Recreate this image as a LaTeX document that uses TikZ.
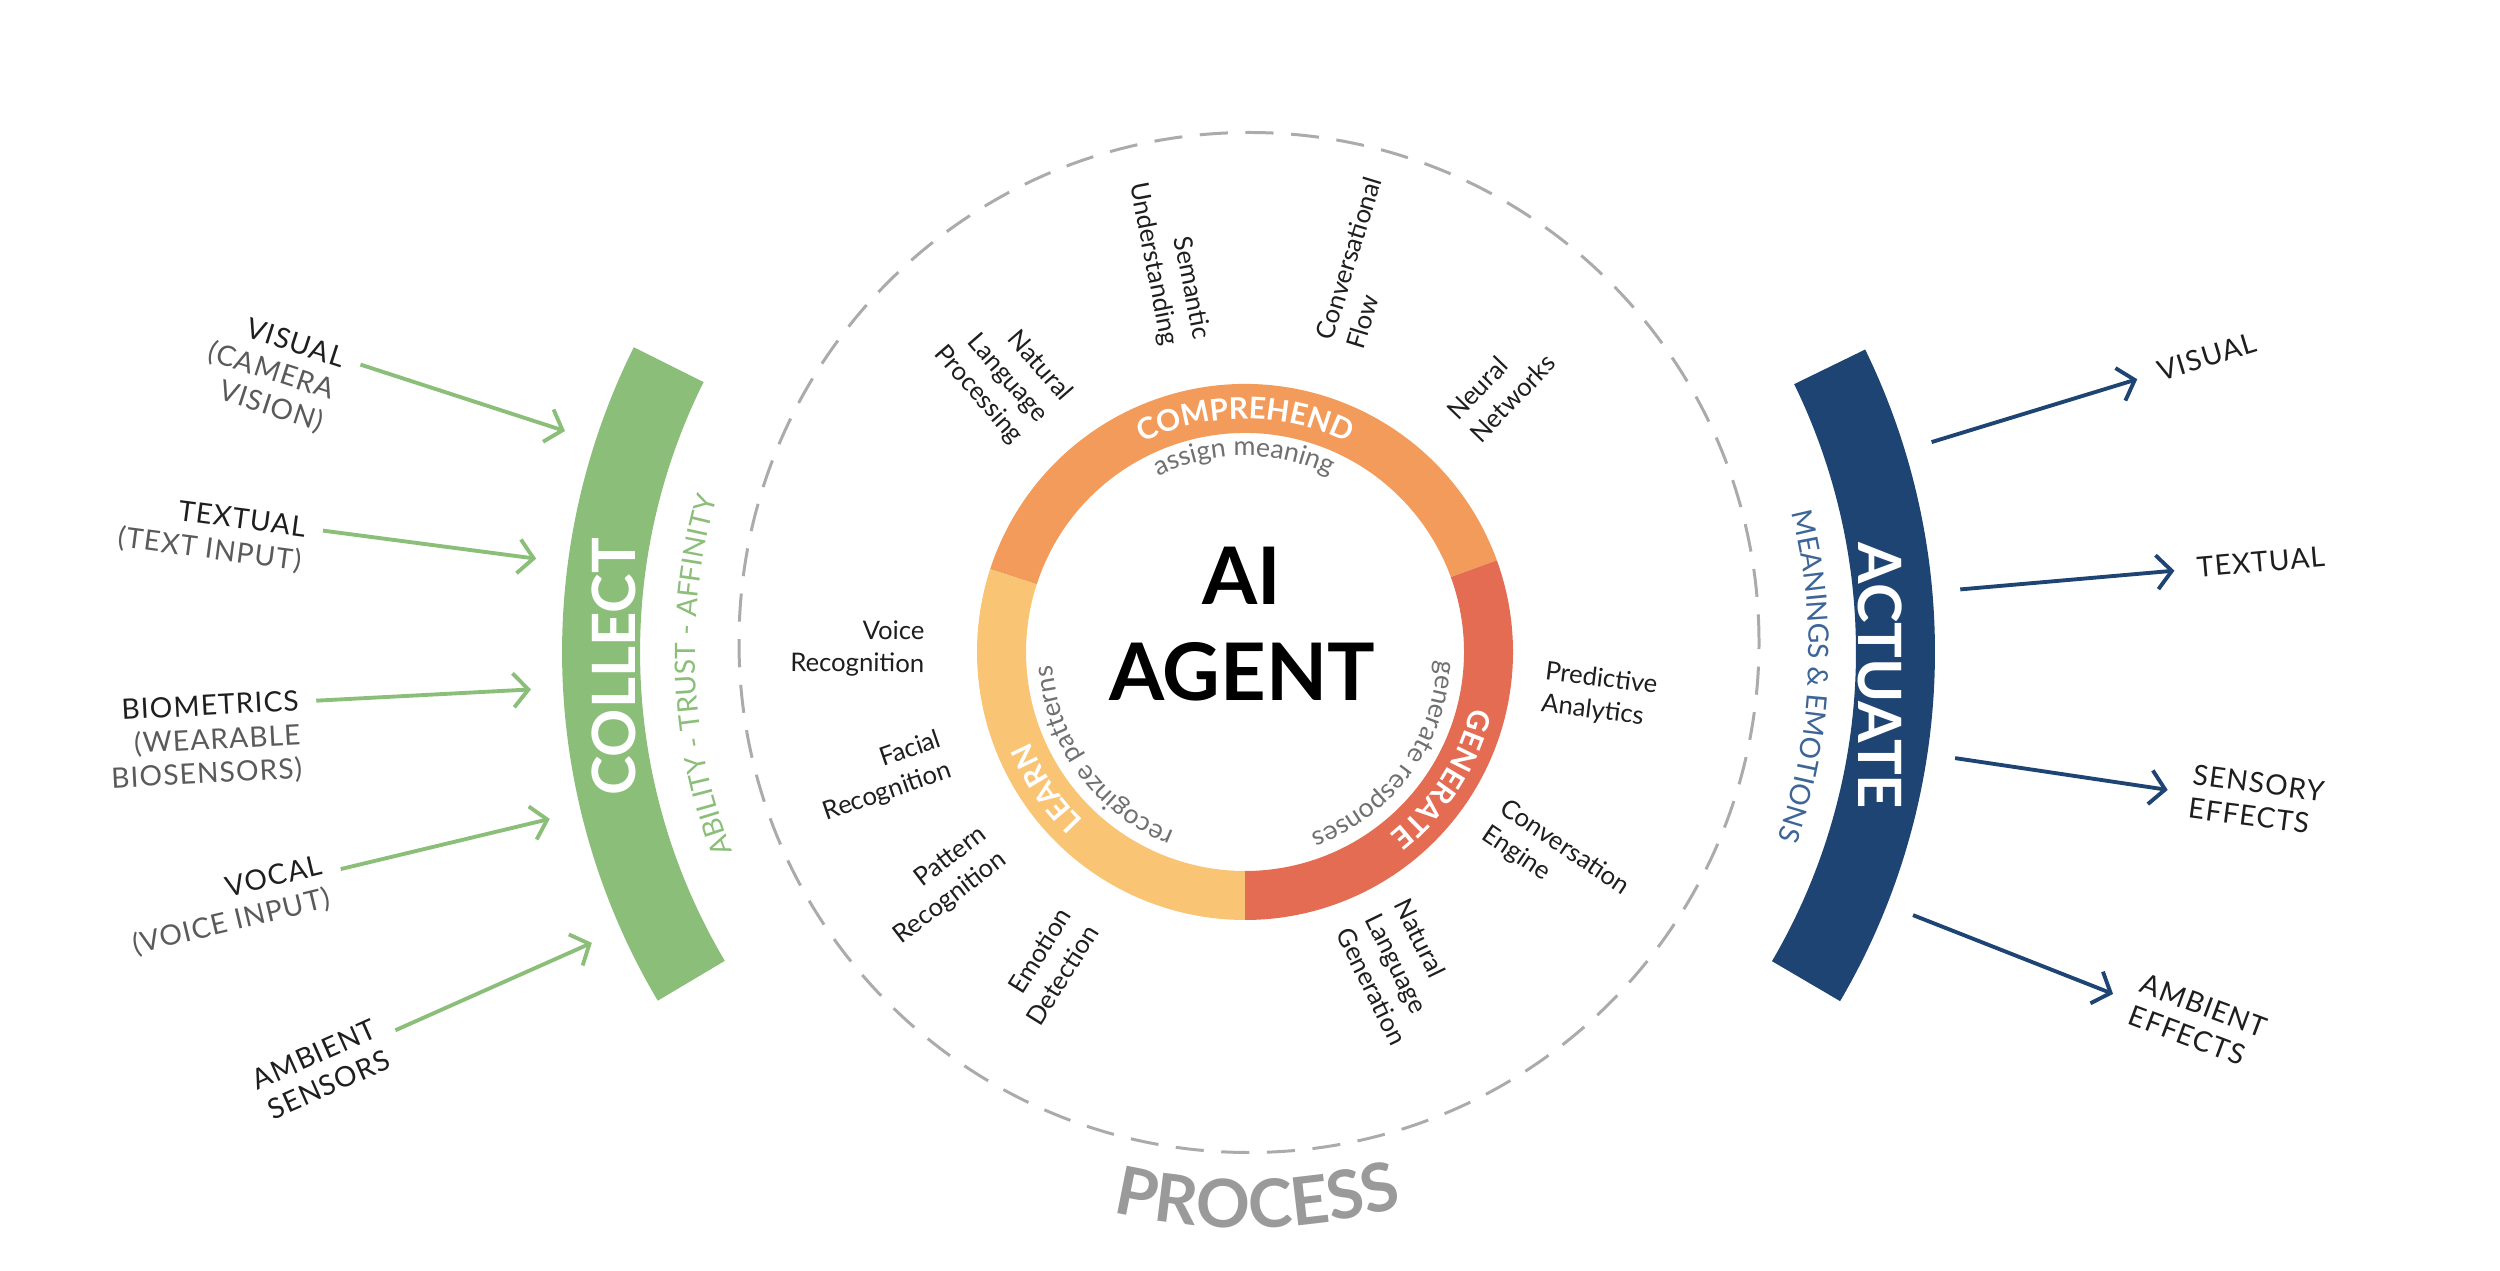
\documentclass[tikz,border=0pt]{standalone}
\usepackage{fontspec}
\setmainfont{Lato}
\newfontfamily\latosp[LetterSpace=4]{Lato}
\usetikzlibrary{arrows.meta,calc,decorations.text}
\definecolor{cmpOr}{HTML}{F29B5B}
\definecolor{lrnYl}{HTML}{F9C474}
\definecolor{genRd}{HTML}{E46C52}
\definecolor{colGr}{HTML}{8BBE79}
\definecolor{actBl}{HTML}{1D4472}
\definecolor{actTx}{HTML}{3D6597}
\definecolor{dashGy}{HTML}{ABABAB}
\definecolor{procGy}{HTML}{9A9A9A}
\definecolor{subGy}{HTML}{5A5A5A}
\definecolor{inkBk}{HTML}{1E1E1E}
\definecolor{hintGy}{HTML}{707070}

\begin{document}
\begin{tikzpicture}[>={Straight Barb[length=1.5mm,width=3.4mm]},
  inarr/.style={->,colGr,line width=1.1pt},
  outarr/.style={->,actBl,line width=1.1pt},
  srcl/.style={font=\latosp\fontsize{8}{9.6}\selectfont,text=inkBk,inner sep=0pt,align=right,anchor=north east},
  actl/.style={font=\latosp\fontsize{8}{9.6}\selectfont,text=inkBk,inner sep=0pt,align=left,anchor=north west},
  techl/.style={font=\fontsize{7.3}{9.2}\selectfont,text=inkBk,inner sep=0pt,align=right,anchor=east},
  techr/.style={font=\fontsize{7.3}{9.2}\selectfont,text=inkBk,inner sep=0pt,align=left,anchor=west},
  band/.style={font=\fontsize{17}{20}\selectfont\bfseries,text=white,inner sep=0pt},
  arclbl/.style={decorate,decoration={text along path,text align=center,#1}}]
  \useasboundingbox (0,0) rectangle (25,12.7);
  \coordinate (C) at (12.45,6.18); \coordinate (D) at (12.49,6.275);
  \draw[dashGy,line width=0.85pt,dash pattern=on 8pt off 5pt] (D) circle[radius=5.1];
  \fill[cmpOr] ($(C)+(20:2.68)$) arc[start angle=20,end angle=162,radius=2.68] -- ($(C)+(162:2.19)$) arc[start angle=162,end angle=20,radius=2.19] -- cycle;
  \fill[lrnYl] ($(C)+(162:2.68)$) arc[start angle=162,end angle=270,radius=2.68] -- ($(C)+(270:2.19)$) arc[start angle=270,end angle=162,radius=2.19] -- cycle;
  \fill[genRd] ($(C)+(270:2.68)$) arc[start angle=270,end angle=380,radius=2.68] -- ($(C)+(380:2.19)$) arc[start angle=380,end angle=270,radius=2.19] -- cycle;
  \node[font=\fontsize{22.6}{27.3}\selectfont\bfseries,align=center,inner sep=0pt] (agent) at ($(C)+(-0.03,0.28)$) {AI\\AGENT};
  \path[arclbl={text color=white,text={|\fontsize{8.5}{10}\selectfont\bfseries|COMPREHEND}}] ($(C)+(150:2.33)$) arc[start angle=150,end angle=30,radius=2.33];
  \path[arclbl={text color=white,text={|\fontsize{8.5}{10}\selectfont\bfseries|GENERATE}}] ($(C)+(27.25:2.33)$) arc[start angle=27.25,end angle=-92.75,radius=2.33];
  \path[arclbl={text color=white,text={|\fontsize{8.5}{10}\selectfont\bfseries|LEARN}}] ($(C)+(274.5:2.33)$) arc[start angle=274.5,end angle=154.5,radius=2.33];
  \path[arclbl={text color=hintGy,text={|\fontsize{7.6}{9}\selectfont|assign meaning}}] ($(C)+(160.3:1.96)$) arc[start angle=160.3,end angle=20.3,radius=1.96];
  \path[arclbl={text color=hintGy,text={|\fontsize{7.6}{9}\selectfont|generate responses}}] ($(C)+(33.7:1.93)$) arc[start angle=33.7,end angle=-106.3,radius=1.93];
  \path[arclbl={text color=hintGy,text={|\fontsize{7.6}{9}\selectfont|recoginze patterns}}] ($(C)+(286.3:1.93)$) arc[start angle=286.3,end angle=146.3,radius=1.93];
  \node[techl,rotate=-49] (t1) at ($(C)+(131:3.08)$) {Natural\\Language\\Processing};
  \node[techl,rotate=-79] (t2) at ($(C)+(101:3.15)$) {Semantic\\Understanding};
  \node[techr,rotate=73] (t3) at ($(C)+(73:3.22)$) {Conversational\\Flow};
  \node[techr,rotate=46] (t4) at ($(C)+(46:3.13)$) {Neural\\Networks};
  \node[techr,rotate=-7] (t5) at ($(C)+(-7:3.0)$) {Predictive\\Analytics};
  \node[techr,rotate=-34] (t6) at ($(C)+(-34:2.99)$) {Conversation\\Engine};
  \node[techr,rotate=-64] (t7) at ($(C)+(-64:2.92)$) {Natural\\Language\\Generation};
  \node[techl,rotate=-0.5] (t8) at ($(C)+(179.5:3.2)$) {Voice\\Recognition};
  \node[techl,rotate=19] (t9) at ($(C)+(199:3.16)$) {Facial\\Recognition};
  \node[techl,rotate=37.5] (t10) at ($(C)+(217.5:3.16)$) {Pattern\\Recognition};
  \node[techl,rotate=58] (t11) at ($(C)+(238:3.14)$) {Emotion\\Detection};
  \path[arclbl={text color=procGy,text={|\fontsize{19}{21}\selectfont\bfseries|PROCESS}}] ($(C)+(236.3:5.76)$) arc[start angle=236.3,end angle=306.3,radius=5.76];
  \fill[colGr] ($(C)+(153.5:6.83)$) arc[start angle=153.5,end angle=210.7,radius=6.83] -- ($(C)+(210.7:6.05)$) arc[start angle=210.7,end angle=153.5,radius=6.05] -- cycle;
  \fill[actBl] ($(C)+(-30.4:6.9)$) arc[start angle=-30.4,end angle=26,radius=6.9] -- ($(C)+(26:6.11)$) arc[start angle=26,end angle=-30.4,radius=6.11] -- cycle;
  \node[band,rotate=90] (collect) at (6.14,6.03) {COLLECT};
  \node[band,rotate=-90] (actuate) at (18.80,5.94) {ACTUATE};
  \path[arclbl={text color=colGr,text={|\fontsize{8}{9}\selectfont|ABILITY - TRUST - AFFINITY}}] ($(C)+(222.5:5.5)$) arc[start angle=222.5,end angle=142.5,radius=5.5];
  \path[arclbl={text color=actTx,text={|\fontsize{8}{9}\selectfont|MEANINGS {\&} EMOTIONS}}] ($(C)+(37.5:5.64)$) arc[start angle=37.5,end angle=-42.5,radius=5.64];
  \coordinate (si1) at ($(C)+(162:9.3)$); \coordinate (se1) at ($(C)+(162:7.15)$);
  \coordinate (si2) at ($(C)+(172.5:9.3)$); \coordinate (se2) at ($(C)+(172.5:7.15)$);
  \coordinate (si3) at ($(C)+(183:9.3)$); \coordinate (se3) at ($(C)+(183:7.15)$);
  \coordinate (si4) at ($(C)+(193.5:9.3)$); \coordinate (se4) at ($(C)+(193.5:7.15)$);
  \coordinate (si5) at ($(C)+(204:9.3)$); \coordinate (se5) at ($(C)+(204:7.15)$);
  \draw[inarr] (si1)--(se1); \draw[inarr] (si2)--(se2); \draw[inarr] (si3)--(se3);
  \draw[inarr] (si4)--(se4); \draw[inarr] (si5)--(se5);
  \node[srcl,rotate=-18] (s1) at ($(C)+(162:9.47)+(72:0.12)$) {VISUAL\\{\color{subGy}(CAMERA}\\{\color{subGy}VISION)}};
  \node[srcl,rotate=-7.5] (s2) at ($(C)+(172.5:9.47)+(82.5:0.12)$) {TEXTUAL\\{\color{subGy}(TEXT INPUT)}};
  \node[srcl,rotate=3] (s3) at ($(C)+(183:9.47)+(93:0.12)$) {BIOMETRICS\\{\color{subGy}(WEARABLE}\\{\color{subGy}BIOSENSORS)}};
  \node[srcl,rotate=13.5] (s4) at ($(C)+(193.5:9.47)+(103.5:0.2)$) {VOCAL\\{\color{subGy}(VOICE INPUT)}};
  \node[srcl,rotate=24] (s5) at ($(C)+(204:9.47)+(114:0.22)$) {AMBIENT\\SENSORS};
  \coordinate (ai1) at ($(C)+(17:7.18)$); \coordinate (ae1) at ($(C)+(17:9.33)$);
  \coordinate (ai2) at ($(C)+(5:7.18)$); \coordinate (ae2) at ($(C)+(5:9.33)$);
  \coordinate (ai3) at ($(C)+(-8.5:7.18)$); \coordinate (ae3) at ($(C)+(-8.5:9.33)$);
  \coordinate (ai4) at ($(C)+(-21.5:7.18)$); \coordinate (ae4) at ($(C)+(-21.5:9.33)$);
  \draw[outarr] (ai1)--(ae1); \draw[outarr] (ai2)--(ae2);
  \draw[outarr] (ai3)--(ae3); \draw[outarr] (ai4)--(ae4);
  \node[actl,rotate=17] (o1) at ($(C)+(17:9.55)+(107:0.12)$) {VISUAL};
  \node[actl,rotate=5] (o2) at ($(C)+(5:9.55)+(95:0.12)$) {TEXTUAL};
  \node[actl,rotate=-7.5] (o3) at ($(C)+(-8.5:9.55)+(81.5:0.3)$) {SENSORY\\EFFECTS};
  \node[actl,rotate=-20.5] (o4) at ($(C)+(-21.5:9.55)+(68.5:0.32)$) {AMBIENT\\EFFECTS};
\end{tikzpicture}
\end{document}
